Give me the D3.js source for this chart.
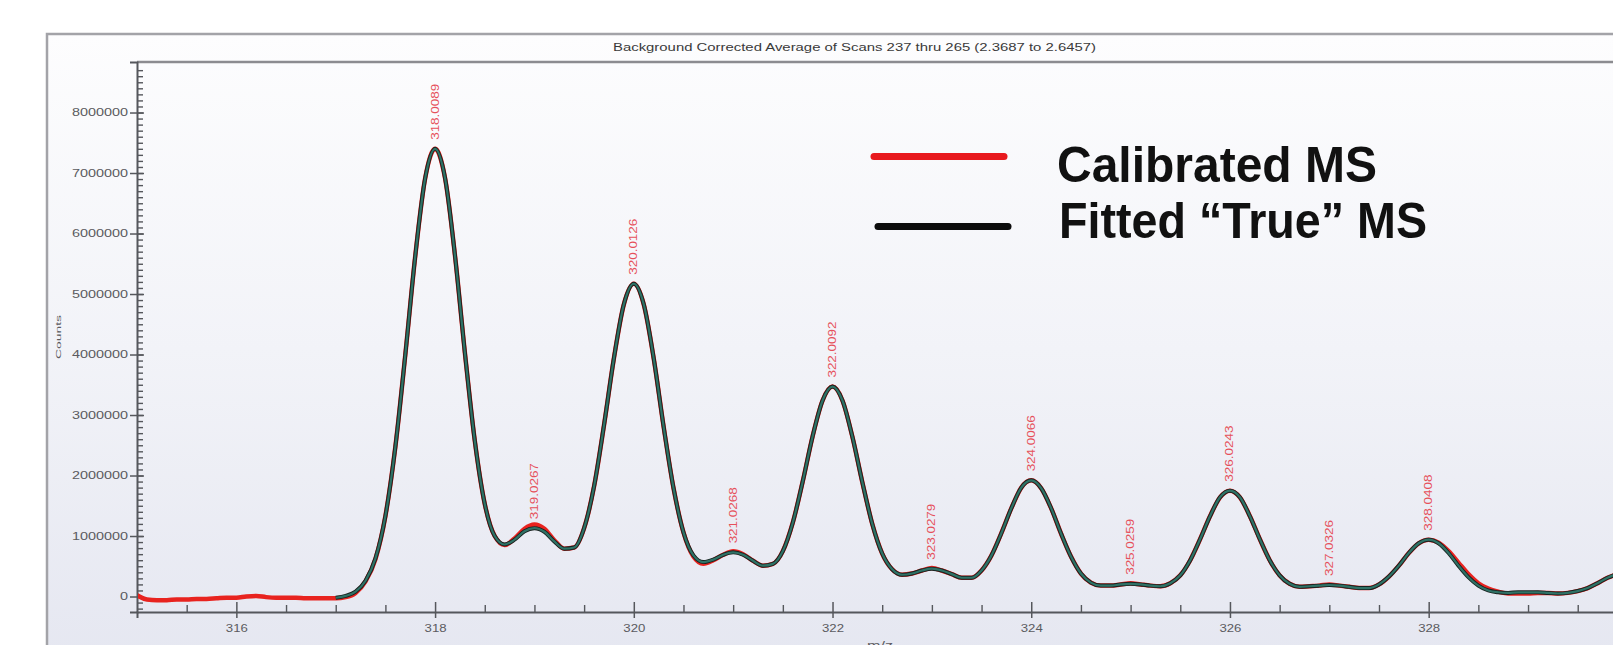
<!DOCTYPE html>
<html>
<head>
<meta charset="utf-8">
<script src="https://cdn.jsdelivr.net/npm/d3@7/dist/d3.min.js"></script>
<style>
  html, body { margin: 0; padding: 0; background: #fff; overflow: hidden; }
  svg { display: block; font-family: "Liberation Sans", Arial, sans-serif; }
</style>
</head>
<body>
<svg id="chart" width="1613" height="645"></svg>
<script>
// --- data (intensities in millions of counts) ---
const chartTitle = "Background Corrected Average of Scans 237 thru 265 (2.3687 to 2.6457)";
const yAxisTitle = "Counts";
const xAxisTitle = "m/z";

const mz = [
  315.0, 315.1, 315.2, 315.3, 315.4, 315.5, 315.6, 315.7, 315.8, 315.9,
  316.0, 316.1, 316.2, 316.3, 316.4, 316.5, 316.6, 316.7, 316.8, 316.9,
  317.0, 317.1, 317.2, 317.3, 317.4, 317.5, 317.6, 317.7, 317.8, 317.9,
  318.0, 318.1, 318.2, 318.3, 318.4, 318.5, 318.6, 318.7, 318.8, 318.9,
  319.0, 319.1, 319.2, 319.3, 319.4, 319.5, 319.6, 319.7, 319.8, 319.9,
  320.0, 320.1, 320.2, 320.3, 320.4, 320.5, 320.6, 320.7, 320.8, 320.9,
  321.0, 321.1, 321.2, 321.3, 321.4, 321.5, 321.6, 321.7, 321.8, 321.9,
  322.0, 322.1, 322.2, 322.3, 322.4, 322.5, 322.6, 322.7, 322.8, 322.9,
  323.0, 323.1, 323.2, 323.3, 323.4, 323.5, 323.6, 323.7, 323.8, 323.9,
  324.0, 324.1, 324.2, 324.3, 324.4, 324.5, 324.6, 324.7, 324.8, 324.9,
  325.0, 325.1, 325.2, 325.3, 325.4, 325.5, 325.6, 325.7, 325.8, 325.9,
  326.0, 326.1, 326.2, 326.3, 326.4, 326.5, 326.6, 326.7, 326.8, 326.9,
  327.0, 327.1, 327.2, 327.3, 327.4, 327.5, 327.6, 327.7, 327.8, 327.9,
  328.0, 328.1, 328.2, 328.3, 328.4, 328.5, 328.6, 328.7, 328.8, 328.9,
  329.0, 329.1, 329.2, 329.3, 329.4, 329.5, 329.6, 329.7, 329.8, 329.9,
  330.0
];

// red trace, 315.0 .. 330.0
const calibrated = [
  0.02, -0.05, -0.06, -0.06, -0.05, -0.05, -0.04, -0.04, -0.03, -0.02,
  -0.02, 0.00, 0.01, -0.01, -0.02, -0.02, -0.02, -0.03, -0.03, -0.03,
  -0.03, -0.01, 0.06, 0.25, 0.62, 1.33, 2.47, 3.99, 5.62, 6.91,
  7.40, 6.92, 5.64, 4.03, 2.57, 1.53, 1.00, 0.85, 0.96, 1.12,
  1.19, 1.12, 0.93, 0.79, 0.81, 1.13, 1.82, 2.83, 3.94, 4.83,
  5.17, 4.83, 3.94, 2.81, 1.79, 1.06, 0.66, 0.54, 0.60, 0.69,
  0.75, 0.70, 0.59, 0.51, 0.54, 0.75, 1.22, 1.90, 2.65, 3.24,
  3.47, 3.24, 2.64, 1.89, 1.20, 0.71, 0.45, 0.36, 0.38, 0.43,
  0.47, 0.43, 0.37, 0.31, 0.31, 0.43, 0.68, 1.05, 1.46, 1.80,
  1.92, 1.79, 1.46, 1.04, 0.66, 0.38, 0.23, 0.18, 0.18, 0.20,
  0.22, 0.20, 0.18, 0.17, 0.22, 0.35, 0.60, 0.95, 1.33, 1.64,
  1.75, 1.64, 1.33, 0.95, 0.60, 0.35, 0.21, 0.16, 0.17, 0.18,
  0.20, 0.18, 0.16, 0.14, 0.14, 0.20, 0.33, 0.51, 0.72, 0.88,
  0.94, 0.89, 0.75, 0.56, 0.37, 0.22, 0.13, 0.08, 0.05, 0.05,
  0.05, 0.06, 0.06, 0.05, 0.06, 0.09, 0.14, 0.22, 0.31, 0.37,
  0.40
];

// fitted trace, 317.0 .. 330.0
const fitted = [
  -0.02, 0.01, 0.08, 0.26, 0.63, 1.33, 2.47, 3.99, 5.62, 6.91,
  7.40, 6.92, 5.64, 4.03, 2.57, 1.53, 1.00, 0.86, 0.94, 1.08,
  1.13, 1.07, 0.91, 0.79, 0.81, 1.13, 1.82, 2.83, 3.94, 4.83,
  5.17, 4.83, 3.94, 2.81, 1.79, 1.06, 0.68, 0.57, 0.61, 0.69,
  0.73, 0.69, 0.59, 0.51, 0.54, 0.75, 1.22, 1.90, 2.65, 3.24,
  3.47, 3.24, 2.64, 1.89, 1.20, 0.71, 0.45, 0.36, 0.38, 0.43,
  0.46, 0.43, 0.37, 0.31, 0.31, 0.43, 0.68, 1.05, 1.46, 1.80,
  1.92, 1.79, 1.46, 1.04, 0.66, 0.38, 0.23, 0.18, 0.18, 0.20,
  0.21, 0.20, 0.18, 0.17, 0.22, 0.35, 0.60, 0.95, 1.33, 1.64,
  1.75, 1.64, 1.33, 0.95, 0.60, 0.35, 0.21, 0.16, 0.17, 0.18,
  0.19, 0.18, 0.16, 0.14, 0.14, 0.20, 0.33, 0.51, 0.72, 0.88,
  0.94, 0.88, 0.72, 0.51, 0.32, 0.18, 0.10, 0.07, 0.06, 0.07,
  0.07, 0.07, 0.06, 0.05, 0.06, 0.09, 0.14, 0.22, 0.31, 0.37,
  0.40
];
const fittedStart = 20; // index into mz where the fitted trace begins

const peakMz = [318, 319, 320, 321, 322, 323, 324, 325, 326, 327, 328];
const peakLabels = ["318.0089", "319.0267", "320.0126", "321.0268", "322.0092",
  "323.0279", "324.0066", "325.0259", "326.0243", "327.0326", "328.0408"];

const yTicks = [0, 1000000, 2000000, 3000000, 4000000, 5000000, 6000000, 7000000, 8000000];
const xTicks = [316, 318, 320, 322, 324, 326, 328];

const legendNames = ["Calibrated MS", "Fitted \u201CTrue\u201D MS"];
const legendColors = ["#e8191e", "#0c0c0c"];

// --- layout ---
const svg = d3.select("#chart");
const frame = { left: 47, top: 34 };
const plot = { left: 137, top: 62, bottom: 612 };

const x = d3.scaleLinear().domain([315, 330]).range([plot.left, plot.left + 15 * 99.36]);
const y = d3.scaleLinear().domain([-256000, 8835000]).range([plot.bottom, plot.top]);

const defs = svg.append("defs");
const grad = defs.append("linearGradient")
  .attr("id", "bg").attr("x1", 0).attr("y1", 0).attr("x2", 0).attr("y2", 1);
grad.append("stop").attr("offset", "0%").attr("stop-color", "#fdfdfe");
grad.append("stop").attr("offset", "45%").attr("stop-color", "#f2f3f8");
grad.append("stop").attr("offset", "100%").attr("stop-color", "#e2e4ef");

defs.append("clipPath").attr("id", "plotClip")
  .append("rect")
    .attr("x", plot.left + 1).attr("y", plot.top)
    .attr("width", 1613 - plot.left).attr("height", plot.bottom - plot.top);

// outer frame
svg.append("rect")
  .attr("x", frame.left).attr("y", frame.top)
  .attr("width", 1700).attr("height", 700)
  .attr("fill", "url(#bg)")
  .attr("stroke", "#a3a3a8").attr("stroke-width", 2.5);

// plot top border
svg.append("line")
  .attr("x1", plot.left).attr("x2", 1613)
  .attr("y1", plot.top).attr("y2", plot.top)
  .attr("stroke", "#8c8c90").attr("stroke-width", 2.5);

// title
svg.append("text")
  .attr("x", 613).attr("y", 50.5)
  .attr("font-size", 10).attr("fill", "#3a3a3a")
  .attr("textLength", 483).attr("lengthAdjust", "spacingAndGlyphs")
  .text(chartTitle);

// y axis: major ticks crossing the line, minor ticks inside
const yAxisG = svg.append("g")
  .attr("transform", `translate(${plot.left},0)`)
  .call(d3.axisLeft(y).tickValues(yTicks).tickSize(7).tickFormat(d3.format("d")));
yAxisG.select(".domain").attr("stroke", "#55575c").attr("stroke-width", 2);
yAxisG.selectAll(".tick line").attr("x1", 7).attr("stroke", "#55575c").attr("stroke-width", 1.5);
yAxisG.selectAll(".tick text")
  .attr("x", -9)
  .attr("font-size", 10).attr("fill", "#5b5b60").attr("font-family", "Liberation Sans, Arial, sans-serif")
  .attr("textLength", d => String(d).length * 8)
  .attr("lengthAdjust", "spacingAndGlyphs");

const yMinor = svg.append("g")
  .attr("transform", `translate(${plot.left},0)`)
  .call(d3.axisRight(y).tickValues(d3.range(-200000, 8800000, 100000)).tickSize(6).tickFormat(""));
yMinor.select(".domain").remove();
yMinor.selectAll(".tick line").attr("stroke", "#55575c").attr("stroke-width", 1.4);

// y axis title
svg.append("text")
  .attr("transform", "translate(61,337) rotate(-90)")
  .attr("text-anchor", "middle")
  .attr("font-size", 8).attr("fill", "#5b5b60")
  .attr("textLength", 44).attr("lengthAdjust", "spacingAndGlyphs")
  .text(yAxisTitle);

// x axis
const xAxisG = svg.append("g")
  .attr("transform", `translate(0,${plot.bottom})`)
  .call(d3.axisBottom(x).tickValues(xTicks).tickSize(6).tickFormat(d3.format("d")));
xAxisG.select(".domain").attr("stroke", "#55575c").attr("stroke-width", 2);
xAxisG.selectAll(".tick line").attr("y1", -10).attr("stroke", "#55575c").attr("stroke-width", 1.5);
xAxisG.selectAll(".tick text")
  .attr("y", 13)
  .attr("font-size", 10).attr("fill", "#5b5b60").attr("font-family", "Liberation Sans, Arial, sans-serif")
  .attr("textLength", 22).attr("lengthAdjust", "spacingAndGlyphs");

const xMinor = svg.append("g")
  .attr("transform", `translate(0,${plot.bottom})`)
  .call(d3.axisTop(x).tickValues(d3.range(315.5, 330, 0.5).filter(v => v % 2 !== 0)).tickSize(7).tickFormat(""));
xMinor.select(".domain").remove();
xMinor.selectAll(".tick line").attr("stroke", "#55575c").attr("stroke-width", 1.4);

// x axis title, partly below the window edge as in the source
svg.append("text")
  .attr("x", 880).attr("y", 649)
  .attr("text-anchor", "middle")
  .attr("font-size", 10).attr("fill", "#5b5b60")
  .attr("textLength", 26).attr("lengthAdjust", "spacingAndGlyphs")
  .text(xAxisTitle);

// traces
const line = d3.line()
  .x(d => x(d[0]))
  .y(d => y(d[1] * 1e6))
  .curve(d3.curveMonotoneX);

const calData = mz.map((m, i) => [m, calibrated[i]]);
const fitData = fitted.map((v, i) => [mz[i + fittedStart], v]);

const traces = svg.append("g").attr("clip-path", "url(#plotClip)");
traces.append("path").datum(calData)
  .attr("d", line).attr("fill", "none")
  .attr("stroke", "#e8231f").attr("stroke-width", 4.5).attr("stroke-linejoin", "round");
traces.append("path").datum(fitData)
  .attr("d", line).attr("fill", "none")
  .attr("stroke", "#18221f").attr("stroke-width", 4).attr("stroke-linejoin", "round");
traces.append("path").datum(fitData)
  .attr("d", line).attr("fill", "none")
  .attr("stroke", "#2f7266").attr("stroke-width", 2.2).attr("stroke-linejoin", "round");

// peak labels
svg.append("g").selectAll("text")
  .data(peakMz)
  .join("text")
    .attr("transform", (m, i) => {
      const v = fitted[mz.indexOf(m) - fittedStart];
      return `translate(${x(m) + 3.5},${y(v * 1e6) - 9}) rotate(-90)`;
    })
    .attr("font-size", 10).attr("fill", "#e6505a")
    .attr("textLength", 56).attr("lengthAdjust", "spacingAndGlyphs")
    .text((m, i) => peakLabels[i]);

// legend
const legend = svg.append("g");
const legendRows = [
  { lx1: 874, lx2: 1004, ly: 156.5, tx: 1057, ty: 182, tl: 320 },
  { lx1: 878, lx2: 1008, ly: 226.5, tx: 1059, ty: 238, tl: 368 }
];
legendRows.forEach((r, i) => {
  legend.append("line")
    .attr("x1", r.lx1).attr("x2", r.lx2).attr("y1", r.ly).attr("y2", r.ly)
    .attr("stroke", legendColors[i]).attr("stroke-width", 7).attr("stroke-linecap", "round");
  legend.append("text")
    .attr("x", r.tx).attr("y", r.ty)
    .attr("font-size", 50).attr("font-weight", "bold").attr("fill", "#111")
    .attr("textLength", r.tl).attr("lengthAdjust", "spacingAndGlyphs")
    .text(legendNames[i]);
});
</script>
</body>
</html>
